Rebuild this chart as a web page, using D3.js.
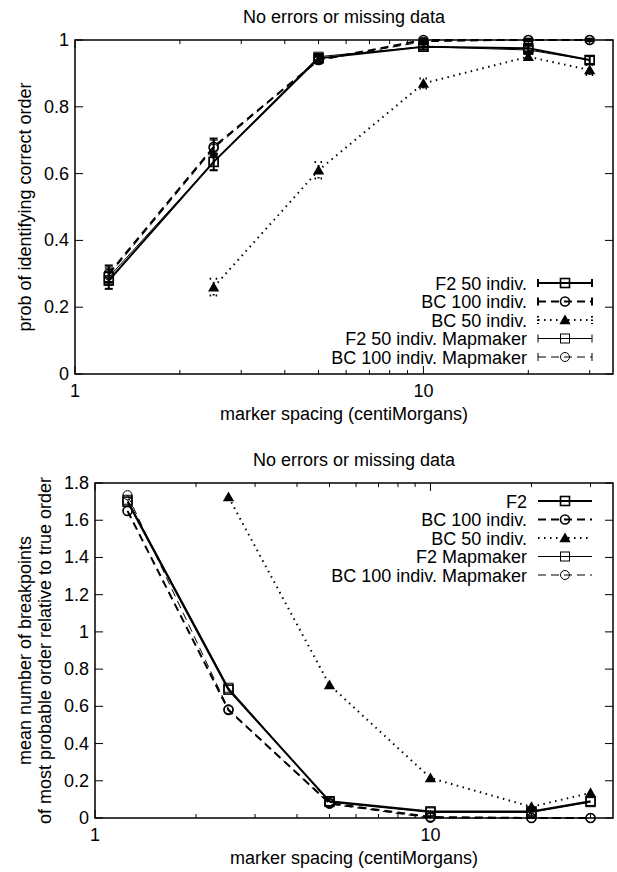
<!DOCTYPE html>
<html><head><meta charset="utf-8">
<script src="https://cdn.jsdelivr.net/npm/d3@7"></script>
<style>
body{margin:0;background:#fff}
text{font-family:"Liberation Sans",Arial,Helvetica,sans-serif;fill:#000}
</style></head>
<body><svg id="c" width="617" height="872"></svg>
<script>
// ---------- data ----------
const spacing = [1.25, 2.5, 5, 10, 20, 30];
const xMajorTicks = [1, 10];
const xMinorTicks = [2, 3, 4, 5, 6, 7, 8, 9, 20, 30];
const topYTicks = [0, 0.2, 0.4, 0.6, 0.8, 1];
const botYTicks = [0, 0.2, 0.4, 0.6, 0.8, 1, 1.2, 1.4, 1.6, 1.8];

const titleText = "No errors or missing data";
const xTitle = "marker spacing (centiMorgans)";
const topYTitle = ["prob of identifying correct order"];
const botYTitle = ["mean number of breakpoints", "of most probable order relative to true order"];

// top panel: probability of identifying correct order
const topF2 = [0.28, 0.635, 0.945, 0.98, 0.975, 0.94];
const topF2Err = [0.025, 0.025, 0.01, 0.008, 0.01, 0.012];
const topBC100 = [0.30, 0.68, 0.94, 1.0, 1.0, 1.0];
const topBC100Err = [0.025, 0.025, 0.01, 0.004, 0.004, 0.004];
const topBC50 = [null, 0.26, 0.61, 0.87, 0.95, 0.91];
const topBC50Err = [null, 0.025, 0.025, 0.015, 0.01, 0.015];
const topF2MM = [0.29, 0.635, 0.95, 0.98, 0.97, 0.94];
const topF2MMErr = [0.025, 0.025, 0.01, 0.008, 0.01, 0.012];
const topBC100MM = [0.295, 0.675, 0.94, 0.995, 1.0, 1.0];
const topBC100MMErr = [0.025, 0.025, 0.01, 0.004, 0.004, 0.004];
const topNames = ["F2 50 indiv.", "BC 100 indiv.", "BC 50 indiv.", "F2 50 indiv. Mapmaker", "BC 100 indiv. Mapmaker"];

// bottom panel: mean number of breakpoints
const botF2 = [1.70, 0.69, 0.09, 0.035, 0.035, 0.09];
const botBC100 = [1.65, 0.58, 0.08, 0.005, 0.0, 0.0];
const botBC50 = [null, 1.725, 0.715, 0.215, 0.06, 0.135];
const botF2MM = [1.71, 0.70, 0.085, 0.03, 0.03, 0.085];
const botBC100MM = [1.735, 0.585, 0.075, 0.0, 0.0, 0.0];
const botNames = ["F2", "BC 100 indiv.", "BC 50 indiv.", "F2 Mapmaker", "BC 100 indiv. Mapmaker"];

// ---------- styles ----------
const styles = [
  {w: 2, dash: null, marker: "square"},
  {w: 2, dash: "8,5", marker: "circle"},
  {w: 2, dash: "1.5,4.5", marker: "triangle"},
  {w: 1, dash: null, marker: "square"},
  {w: 1, dash: "8,5", marker: "circle"}
];
const FS = 18;

const svg = d3.select("#c");

function drawMarker(g, type, cx, cy, sw) {
  if (type === "square") {
    g.append("rect").attr("x", cx - 4.5).attr("y", cy - 4.5).attr("width", 9).attr("height", 9)
      .attr("fill", "none").attr("stroke", "#000").attr("stroke-width", sw);
  } else if (type === "circle") {
    g.append("circle").attr("cx", cx).attr("cy", cy).attr("r", 4.5)
      .attr("fill", "none").attr("stroke", "#000").attr("stroke-width", sw);
  } else {
    g.append("path").attr("d", d3.symbol().type(d3.symbolTriangle).size(55)())
      .attr("transform", `translate(${cx},${cy + 1})`).attr("fill", "#000");
  }
}

function panel(cfg) {
  const x = d3.scaleLog().domain([1, 35]).range([cfg.left, cfg.right]);
  const y = d3.scaleLinear().domain([0, cfg.ymax]).range([cfg.bottom, cfg.top]);
  const g = svg.append("g");

  // title
  g.append("text").attr("x", (cfg.left + cfg.right) / 2).attr("y", cfg.top - 17)
    .attr("text-anchor", "middle").attr("font-size", FS).text(titleText);

  // ticks (mirrored, inward)
  const tk = g.append("g").attr("stroke", "#000").attr("stroke-width", 1);
  xMajorTicks.forEach(t => {
    tk.append("line").attr("x1", x(t)).attr("x2", x(t)).attr("y1", cfg.bottom).attr("y2", cfg.bottom - 8);
    tk.append("line").attr("x1", x(t)).attr("x2", x(t)).attr("y1", cfg.top).attr("y2", cfg.top + 8);
    g.append("text").attr("x", x(t)).attr("y", cfg.bottom + 23).attr("text-anchor", "middle")
      .attr("font-size", FS).text(d3.format("d")(t));
  });
  xMinorTicks.forEach(t => {
    tk.append("line").attr("x1", x(t)).attr("x2", x(t)).attr("y1", cfg.bottom).attr("y2", cfg.bottom - 4);
    tk.append("line").attr("x1", x(t)).attr("x2", x(t)).attr("y1", cfg.top).attr("y2", cfg.top + 4);
  });
  cfg.yTicks.forEach(t => {
    tk.append("line").attr("x1", cfg.left).attr("x2", cfg.left + 8).attr("y1", y(t)).attr("y2", y(t));
    tk.append("line").attr("x1", cfg.right).attr("x2", cfg.right - 8).attr("y1", y(t)).attr("y2", y(t));
    g.append("text").attr("x", cfg.left - 6).attr("y", y(t) + 6).attr("text-anchor", "end")
      .attr("font-size", FS).text(d3.format("~g")(t));
  });

  // x title
  g.append("text").attr("x", (cfg.left + cfg.right) / 2).attr("y", cfg.bottom + 46)
    .attr("text-anchor", "middle").attr("font-size", FS).text(xTitle);
  // y title
  const ym = (cfg.top + cfg.bottom) / 2;
  cfg.yTitle.forEach((line, i) => {
    g.append("text").attr("transform", `translate(${cfg.yTitleX[i]},${ym}) rotate(-90)`)
      .attr("text-anchor", "middle").attr("font-size", FS).text(line);
  });

  // series
  cfg.series.forEach((vals, si) => {
    const st = styles[si];
    const pts = spacing.map((s, i) => ({s, v: vals[i], e: cfg.errs ? cfg.errs[si][i] : null}))
      .filter(p => p.v !== null);
    const sg = g.append("g");
    sg.append("path").datum(pts)
      .attr("d", d3.line().x(p => x(p.s)).y(p => y(p.v)))
      .attr("fill", "none").attr("stroke", "#000").attr("stroke-width", st.w)
      .attr("stroke-dasharray", st.dash);
    pts.forEach(p => {
      if (p.e) {
        const eg = sg.append("g").attr("stroke", "#000").attr("stroke-width", st.w)
          .attr("stroke-dasharray", si === 2 ? st.dash : null);
        const y1 = y(p.v - p.e), y2 = y(Math.min(p.v + p.e, cfg.ymax + 0.01));
        eg.append("line").attr("x1", x(p.s)).attr("x2", x(p.s)).attr("y1", y1).attr("y2", y2);
        eg.append("line").attr("x1", x(p.s) - 4).attr("x2", x(p.s) + 4).attr("y1", y1).attr("y2", y1);
        eg.append("line").attr("x1", x(p.s) - 4).attr("x2", x(p.s) + 4).attr("y1", y2).attr("y2", y2);
      }
      drawMarker(sg, st.marker, x(p.s), y(p.v), st.w === 2 ? 1.6 : 1);
    });
  });

  // legend
  const lg = g.append("g");
  cfg.names.forEach((nm, i) => {
    const st = styles[i];
    const ly = cfg.legendY + i * 18.5;
    lg.append("text").attr("x", 527).attr("y", ly + 6.5).attr("text-anchor", "end")
      .attr("font-size", FS).text(nm);
    lg.append("line").attr("x1", 538).attr("x2", 592).attr("y1", ly).attr("y2", ly)
      .attr("stroke", "#000").attr("stroke-width", st.w).attr("stroke-dasharray", st.dash);
    if (cfg.errs) {
      [538, 592].forEach(cx => lg.append("line").attr("x1", cx).attr("x2", cx)
        .attr("y1", ly - 4).attr("y2", ly + 4).attr("stroke", "#000").attr("stroke-width", st.w)
        .attr("stroke-dasharray", i === 2 ? "1.5,2" : null));
    }
    drawMarker(lg, st.marker, 565, ly, st.w === 2 ? 1.6 : 1);
  });

  // border
  g.append("rect").attr("x", cfg.left).attr("y", cfg.top)
    .attr("width", cfg.right - cfg.left).attr("height", cfg.bottom - cfg.top)
    .attr("fill", "none").attr("stroke", "#000").attr("stroke-width", 1.5);
}

panel({
  left: 75, right: 613, top: 40, bottom: 374, ymax: 1,
  yTicks: topYTicks, yTitle: topYTitle, yTitleX: [31],
  series: [topF2, topBC100, topBC50, topF2MM, topBC100MM],
  errs: [topF2Err, topBC100Err, topBC50Err, topF2MMErr, topBC100MMErr],
  names: topNames, legendY: 283
});
panel({
  left: 95, right: 613, top: 483, bottom: 818, ymax: 1.8,
  yTicks: botYTicks, yTitle: botYTitle, yTitleX: [31, 51],
  series: [botF2, botBC100, botBC50, botF2MM, botBC100MM],
  errs: null,
  names: botNames, legendY: 501
});
</script></body></html>
